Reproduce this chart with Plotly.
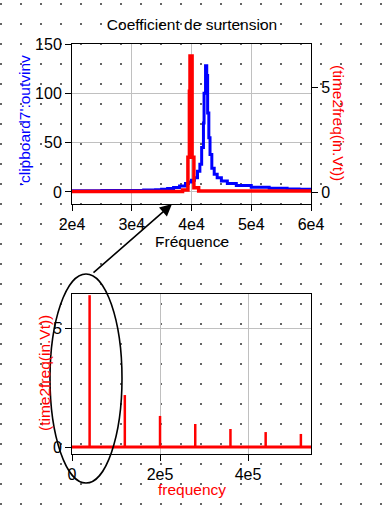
import numpy as np
import plotly.graph_objects as go

W, H = 385, 516

# ---------------- data ----------------
# top plot: quality-factor curve (left axis, blue)
q_freq = [2.0e4, 2.5e4, 3.0e4, 3.2e4, 3.4e4, 3.5e4, 3.6e4, 3.7e4, 3.8e4, 3.9e4,
          3.95e4, 4.0e4, 4.05e4, 4.1e4, 4.14e4, 4.17e4, 4.2e4, 4.21e4, 4.235e4,
          4.255e4, 4.27e4, 4.29e4, 4.31e4, 4.34e4, 4.38e4, 4.43e4, 4.5e4, 4.6e4,
          4.75e4, 5.0e4, 5.3e4, 5.6e4, 5.8e4, 6.0e4]
q_vals = [1.3, 1.4, 1.6, 1.9, 2.3, 2.7, 3.4, 4.5, 6.0, 8.5,
          10, 12, 14.5, 21, 28, 45, 70, 100, 128,
          118, 80, 55, 38, 24, 18, 14.5, 11, 8.5,
          6.5, 4.8, 3.7, 3.0, 2.7, 2.6]

# top plot: spectrum near the fundamental (right axis, red)
s_freq = [2.0e4, 3.85e4, 3.94e4, 3.965e4, 3.975e4, 4.01e4, 4.04e4, 4.12e4, 6.0e4]
s_vals = [0.02, 0.1, 1.65, 4.8, 6.48, 1.65, 0.2, 0.05, 0.05]

# bottom plot: harmonics of the square wave
h_freq = [4.0e4, 1.2e5, 2.0e5, 2.8e5, 3.6e5, 4.4e5, 5.2e5]
h_vals = [6.4, 2.19, 1.31, 0.97, 0.76, 0.63, 0.55]

top_xticks = [2e4, 3e4, 4e4, 5e4, 6e4]
top_xtext = ["2e4", "3e4", "4e4", "5e4", "6e4"]
top_yticks = [0, 50, 100, 150]
top_y2ticks = [0, 5]
bot_xticks = [0, 2e5, 4e5]
bot_xtext = ["0", "2e5", "4e5"]
bot_yticks = [0, 5]

title_text = "Coefficient de surtension"
top_xtitle = "Fréquence"
top_ytitle = "'clipboard7':outvinv"
top_y2title = "(time2freq(in.Vt))"
bot_xtitle = "frequency"
bot_ytitle = "(time2freq(in.Vt))"

# ---------------- layout helpers ----------------
FONT = "Liberation Sans, Arial, sans-serif"
BLUE = "#0000ff"
RED = "#ff0000"
GRID = "#c0c0c0"

def px(x):
    return x / W

def py(y):
    return 1 - y / H

fig = go.Figure()

# background dot grid (full-figure helper axis drawn first)
gx, gy = np.meshgrid(np.arange(1, W, 20), np.arange(4, H, 20))
fig.add_trace(go.Scatter(x=gx.ravel(), y=gy.ravel(), mode="markers",
                         marker=dict(size=1.6, color="#000000", symbol="square",
                                     line=dict(width=0)),
                         xaxis="x", yaxis="y", hoverinfo="skip", showlegend=False))

# top plot traces
fig.add_trace(go.Scatter(x=q_freq, y=q_vals, mode="lines", line=dict(color=BLUE, width=3, shape="hv"),
                         xaxis="x2", yaxis="y2", showlegend=False))
fig.add_trace(go.Scatter(x=s_freq, y=s_vals, mode="lines", line=dict(color=RED, width=3.5, shape="hv"),
                         xaxis="x2", yaxis="y3", showlegend=False))

# bottom plot traces
bx_range = [0, 5.43e5]
fig.add_trace(go.Scatter(x=bx_range, y=[0, 0], mode="lines", line=dict(color=RED, width=3),
                         xaxis="x3", yaxis="y4", showlegend=False))
sx, sy = [], []
for f, v in zip(h_freq, h_vals):
    sx += [f, f, None]
    sy += [0, v, None]
fig.add_trace(go.Scatter(x=sx, y=sy, mode="lines", line=dict(color=RED, width=2.5),
                         xaxis="x3", yaxis="y4", showlegend=False))

tickfont = dict(family=FONT, size=16, color="#000000")
common = dict(showline=True, linecolor="#000000", linewidth=1, mirror=True,
              ticks="outside", ticklen=6, tickcolor="#000000", tickwidth=1,
              gridcolor=GRID, gridwidth=1, zeroline=False, tickfont=tickfont,
              automargin=False)

top_x_dom = [px(72), px(311)]
top_y_dom = [py(204), py(44)]
bot_y_dom = [py(454), py(294)]

fig.update_layout(
    template="none",
    width=W, height=H, autosize=False,
    margin=dict(l=0, r=0, t=0, b=0, pad=0, autoexpand=False),
    paper_bgcolor="#ffffff", plot_bgcolor="rgba(0,0,0,0)",
    showlegend=False,
    title=dict(text=title_text, x=px(192), y=py(25), xanchor="center", yanchor="middle",
               xref="paper", yref="paper", font=dict(family=FONT, size=15.5, color="#000000")),
    xaxis=dict(domain=[0, 1], range=[0, W], visible=False, fixedrange=True, automargin=False),
    yaxis=dict(domain=[0, 1], range=[H, 0], visible=False, fixedrange=True, automargin=False),
    xaxis2=dict(domain=top_x_dom, anchor="y2", range=[2e4, 6e4], tickvals=top_xticks,
                ticktext=top_xtext, showgrid=True, **common),
    yaxis2=dict(domain=top_y_dom, anchor="x2", range=[-12.2, 150], tickvals=top_yticks,
                showgrid=True, **common),
    yaxis3=dict(overlaying="y2", anchor="x2", side="right", range=[-0.571, 7.05],
                tickvals=top_y2ticks, showgrid=False, showline=True, linecolor="#000000",
                ticks="outside", ticklen=6, tickcolor="#000000", zeroline=False, tickfont=tickfont,
                automargin=False),
    xaxis3=dict(domain=top_x_dom, anchor="y4", range=bx_range, tickvals=bot_xticks,
                ticktext=bot_xtext, showgrid=True, **common),
    yaxis4=dict(domain=bot_y_dom, anchor="x3", range=[-0.295, 6.45], tickvals=bot_yticks,
                showgrid=True, **common),
)

titlefont = dict(family=FONT, size=15.5)
ann = [
    dict(text=top_xtitle, x=px(192), y=py(241.5), font=dict(color="#000000", **titlefont), textangle=0),
    dict(text=top_ytitle, x=px(25), y=py(121), font=dict(color=BLUE, **titlefont), textangle=-90),
    dict(text=top_y2title, x=px(338), y=py(123), font=dict(color=RED, **titlefont), textangle=90),
    dict(text=bot_xtitle, x=px(192), y=py(489), font=dict(color=RED, **titlefont), textangle=0),
    dict(text=bot_ytitle, x=px(44), y=py(373), font=dict(color=RED, **titlefont), textangle=-90),
]
for a in ann:
    fig.add_annotation(xref="paper", yref="paper", showarrow=False,
                       xanchor="center", yanchor="middle", **a)

# arrow from ellipse to the top plot
fig.add_annotation(xref="paper", yref="paper", x=px(172), y=py(204), ax=-80, ay=70,
                   axref="pixel", ayref="pixel", showarrow=True, arrowhead=2,
                   arrowsize=1.5, arrowwidth=1.6, arrowcolor="#000000", text="")
# ellipse around the fundamental
fig.add_shape(type="circle", xref="paper", yref="paper", x0=px(50), x1=px(122),
              y0=py(483), y1=py(274), line=dict(color="#000000", width=1.6))

fig.write_html("out.html", config={"responsive": False, "displayModeBar": False},
               post_script="document.body.style.margin='0';document.body.style.overflow='hidden';")
